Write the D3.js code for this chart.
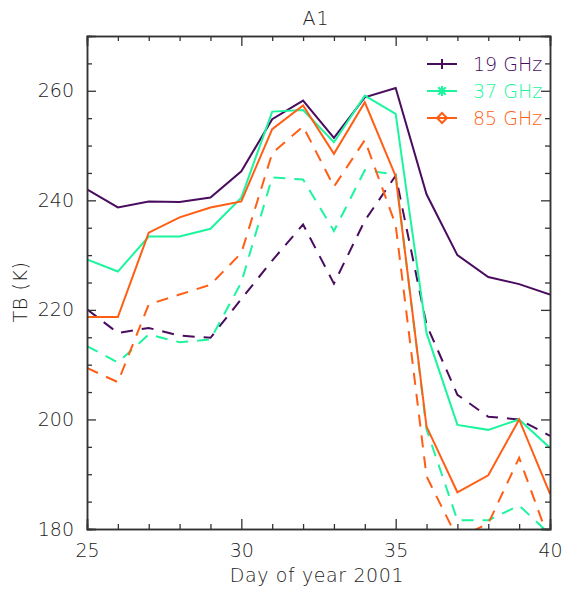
<!DOCTYPE html>
<html>
<head>
<meta charset="utf-8">
<script src="https://cdn.jsdelivr.net/npm/d3@7/dist/d3.min.js"></script>
<style>
  html, body { margin: 0; padding: 0; background: #fff; }
  svg text { font-family: "DejaVu Sans", sans-serif; font-weight: 200; fill: #222; }
</style>
</head>
<body>
<svg id="chart" width="565" height="591"></svg>
<script>
// Brightness temperature, site A1, days 25–40 of 2001
const days = [25, 26, 27, 28, 29, 30, 31, 32, 33, 34, 35, 36, 37, 38, 39, 40];

// solid curves
const tb19 = [242.0, 238.7, 239.8, 239.7, 240.5, 245.3, 254.8, 258.2, 251.4, 258.8, 260.5, 241.1, 230.0, 226.0, 224.7, 222.8];
const tb37 = [229.2, 227.0, 233.4, 233.4, 234.8, 240.5, 256.2, 256.5, 250.6, 259.1, 255.8, 215.8, 199.0, 198.1, 200.0, 194.8];
const tb85 = [218.7, 218.7, 234.1, 236.9, 238.7, 239.8, 253.0, 257.3, 248.5, 257.9, 244.4, 198.7, 186.7, 189.8, 200.0, 186.4];

// dashed curves
const tb19d = [220.1, 215.8, 216.7, 215.3, 214.9, 222.0, 229.0, 235.6, 224.8, 236.3, 244.5, 217.3, 204.5, 200.5, 200.0, 197.0];
const tb37d = [213.4, 210.4, 215.5, 214.1, 214.6, 225.0, 244.2, 243.8, 234.4, 245.5, 244.7, 198.2, 181.6, 181.6, 184.3, 179.0];
const tb85d = [209.4, 206.8, 221.0, 222.8, 224.6, 230.4, 248.6, 253.5, 242.5, 251.0, 235.5, 189.6, 178.3, 181.0, 193.0, 177.5];

const legendLabels = ["19 GHz", "37 GHz", "85 GHz"];
const colors = ["#4a0c5e", "#1cf59e", "#ff5e14"];

const xTicks = [25, 30, 35, 40];
const yTicks = [180, 200, 220, 240, 260];

const W = 565, H = 591;
const m = { left: 87, right: 15, top: 36, bottom: 62 };
const x = d3.scaleLinear().domain([25, 40]).range([m.left, W - m.right]);
const y = d3.scaleLinear().domain([180, 270]).range([H - m.bottom, m.top]);

const svg = d3.select("#chart");

svg.append("defs").append("clipPath").attr("id", "plotclip")
  .append("rect")
  .attr("x", x(25)).attr("y", y(270))
  .attr("width", x(40) - x(25)).attr("height", y(180) - y(270));

const line = d3.line().x((d, i) => x(days[i])).y(d => y(d));

const plot = svg.append("g").attr("clip-path", "url(#plotclip)");
const series = [
  { v: tb19d, c: colors[0], dash: "12,9" },
  { v: tb37d, c: colors[1], dash: "12,9" },
  { v: tb85d, c: colors[2], dash: "12,9" },
  { v: tb19, c: colors[0], dash: null },
  { v: tb37, c: colors[1], dash: null },
  { v: tb85, c: colors[2], dash: null }
];
series.forEach(s => {
  plot.append("path")
    .datum(s.v)
    .attr("d", line)
    .attr("fill", "none")
    .attr("stroke", s.c)
    .attr("stroke-width", 2)
    .attr("stroke-dasharray", s.dash);
});

// axes: major ticks with labels, minor ticks without
const tickCol = "#333";
function drawAxes() {
  const g = svg.append("g");
  // bottom
  const bottom = d3.axisBottom(x).tickValues(xTicks).tickSize(-10).tickPadding(15).tickFormat(d3.format("d"));
  g.append("g").attr("transform", `translate(0,${y(180)})`).call(bottom);
  const bottomMinor = d3.axisBottom(x).tickValues(d3.range(26, 40).filter(d => d % 5)).tickSize(-5).tickFormat("");
  g.append("g").attr("transform", `translate(0,${y(180)})`).call(bottomMinor);
  // top
  const top = d3.axisTop(x).tickValues(xTicks).tickSize(-10).tickFormat("");
  g.append("g").attr("transform", `translate(0,${y(270)})`).call(top);
  const topMinor = d3.axisTop(x).tickValues(d3.range(26, 40).filter(d => d % 5)).tickSize(-5).tickFormat("");
  g.append("g").attr("transform", `translate(0,${y(270)})`).call(topMinor);
  // left
  const left = d3.axisLeft(y).tickValues(yTicks).tickSize(-9).tickPadding(13).tickFormat(d3.format("d"));
  g.append("g").attr("transform", `translate(${x(25)},0)`).call(left);
  const leftMinor = d3.axisLeft(y).tickValues(d3.range(185, 270, 5).filter(d => d % 20)).tickSize(-5).tickFormat("");
  g.append("g").attr("transform", `translate(${x(25)},0)`).call(leftMinor);
  // right
  const right = d3.axisRight(y).tickValues(yTicks).tickSize(-9).tickFormat("");
  g.append("g").attr("transform", `translate(${x(40)},0)`).call(right);
  const rightMinor = d3.axisRight(y).tickValues(d3.range(185, 270, 5).filter(d => d % 20)).tickSize(-5).tickFormat("");
  g.append("g").attr("transform", `translate(${x(40)},0)`).call(rightMinor);

  g.selectAll(".domain").attr("stroke", tickCol).attr("stroke-width", 1.5);
  g.selectAll(".tick line").attr("stroke", tickCol).attr("stroke-width", 1.3);
  g.selectAll(".tick text")
    .attr("font-family", "DejaVu Sans, sans-serif")
    .attr("font-size", 19)
    .attr("font-weight", 200)
    .attr("fill", "#222");
}
drawAxes();

// titles
svg.append("text").attr("x", 316).attr("y", 25).attr("text-anchor", "middle")
  .attr("font-size", 19).attr("letter-spacing", 1).text("A1");
svg.append("text").attr("x", 317).attr("y", 582).attr("text-anchor", "middle")
  .attr("font-size", 19).attr("letter-spacing", 0.6).text("Day of year 2001");
svg.append("text").attr("transform", "translate(27,292) rotate(-90)")
  .attr("text-anchor", "middle").attr("font-size", 19).attr("letter-spacing", 0.6).text("TB (K)");

// legend
const lg = svg.append("g");
const legY = [64, 91, 118];
legendLabels.forEach((lab, i) => {
  const cy = legY[i];
  lg.append("line").attr("x1", 427).attr("x2", 457).attr("y1", cy).attr("y2", cy)
    .attr("stroke", colors[i]).attr("stroke-width", 2);
  const cx = 442;
  if (i === 0) {
    lg.append("path").attr("d", `M${cx},${cy - 5}V${cy + 5}M${cx - 5},${cy}H${cx + 5}`)
      .attr("stroke", colors[i]).attr("stroke-width", 2);
  } else if (i === 1) {
    const r = 5;
    lg.append("path")
      .attr("d", `M${cx},${cy - r}V${cy + r}M${cx - r},${cy}H${cx + r}M${cx - r * 0.75},${cy - r * 0.75}L${cx + r * 0.75},${cy + r * 0.75}M${cx - r * 0.75},${cy + r * 0.75}L${cx + r * 0.75},${cy - r * 0.75}`)
      .attr("stroke", colors[i]).attr("stroke-width", 2);
  } else {
    const r = 5;
    lg.append("path").attr("d", `M${cx},${cy - r}L${cx + r},${cy}L${cx},${cy + r}L${cx - r},${cy}Z`)
      .attr("fill", "none").attr("stroke", colors[i]).attr("stroke-width", 2);
  }
  lg.append("text").attr("x", 473).attr("y", cy + 7).attr("font-size", 19)
    .style("fill", colors[i]).text(lab);
});
</script>
</body>
</html>
